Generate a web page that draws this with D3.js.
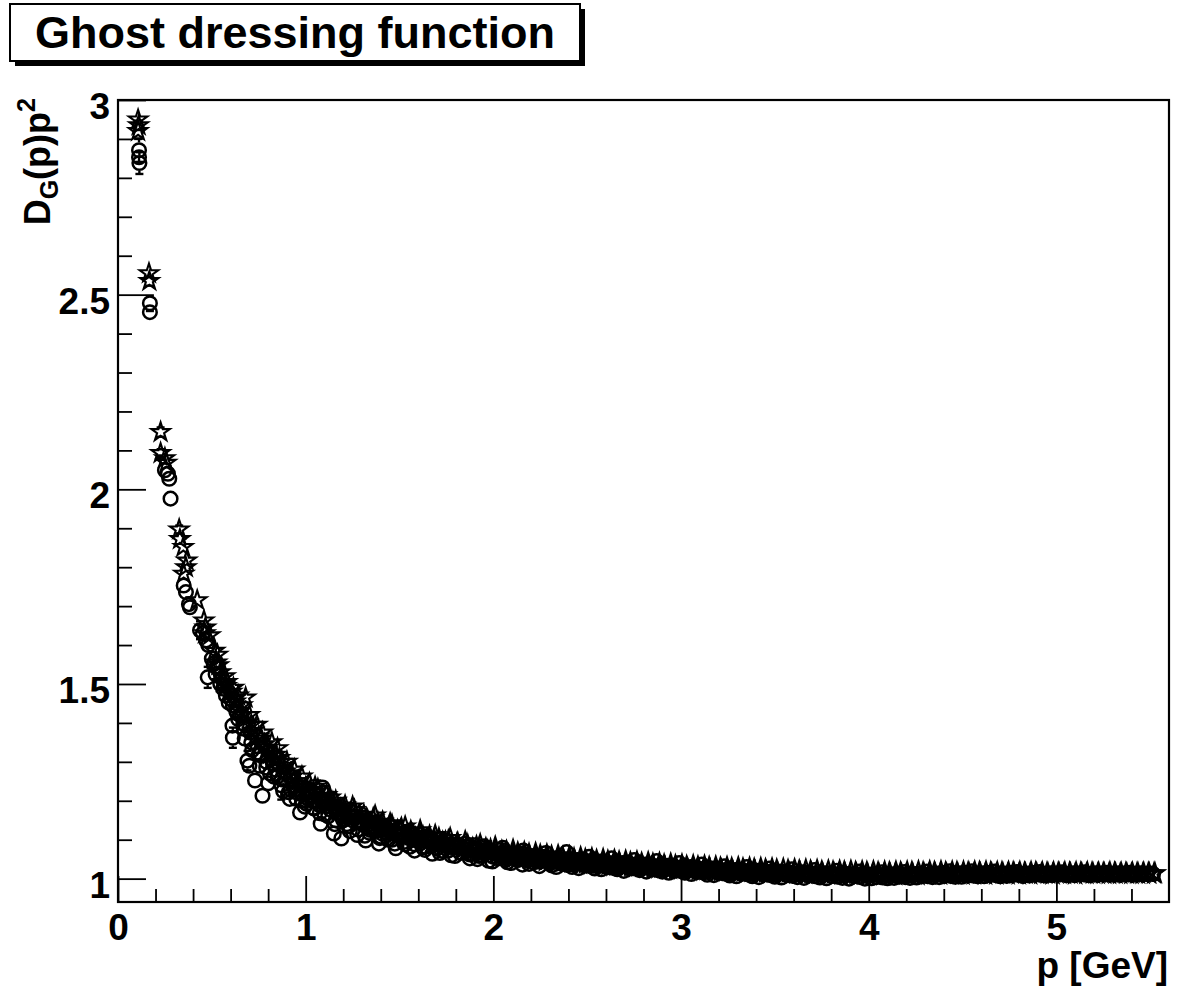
<!DOCTYPE html>
<html>
<head>
<meta charset="utf-8">
<script src="https://cdn.jsdelivr.net/npm/d3@7"></script>
<style>
  body { margin: 0; background: #fff; }
  text { font-family: "Liberation Sans", Arial, Helvetica, sans-serif; font-weight: bold; }
</style>
</head>
<body>
<div id="body"></div>
<script>
// [p (GeV), D_G(p)p^2, error]  -- first lattice set
var circlePoints = [
  [0.112, 2.871, 0.030], [0.112, 2.853, 0], [0.114, 2.838, 0.028],
  [0.170, 2.478, 0.020], [0.170, 2.455, 0],
  [0.250, 2.049, 0], [0.266, 2.040, 0], [0.273, 2.027, 0], [0.280, 1.976, 0],
  [0.350, 1.753, 0], [0.362, 1.736, 0], [0.383, 1.697, 0], [0.378, 1.705, 0],
  [0.437, 1.638, 0.023], [0.452, 1.630, 0], [0.470, 1.612, 0], [0.481, 1.600, 0],
  [0.478, 1.517, 0.027], [0.500, 1.565, 0], [0.510, 1.552, 0], [0.532, 1.540, 0],
  [0.545, 1.500, 0], [0.560, 1.488, 0], [0.575, 1.470, 0], [0.590, 1.452, 0],
  [0.612, 1.445, 0], [0.630, 1.430, 0], [0.610, 1.393, 0], [0.612, 1.362, 0.026],
  [0.650, 1.420, 0], [0.668, 1.398, 0], [0.690, 1.303, 0.025], [0.700, 1.290, 0],
  [0.705, 1.375, 0], [0.730, 1.252, 0], [0.745, 1.340, 0], [0.770, 1.213, 0],
  [0.760, 1.320, 0], [0.790, 1.300, 0], [0.810, 1.270, 0], [0.830, 1.295, 0],
  [0.850, 1.262, 0], [0.870, 1.240, 0.037], [0.890, 1.255, 0], [0.910, 1.222, 0],
  [0.930, 1.240, 0], [0.950, 1.205, 0], [0.970, 1.170, 0], [0.985, 1.215, 0],
  [1.005, 1.192, 0], [1.025, 1.210, 0], [1.045, 1.180, 0], [1.080, 1.141, 0],
  [1.090, 1.234, 0], [1.100, 1.195, 0], [1.120, 1.160, 0], [1.150, 1.116, 0],
  [1.160, 1.175, 0], [1.190, 1.103, 0], [1.200, 1.150, 0], [1.230, 1.135, 0],
  [1.250, 1.160, 0], [1.275, 1.112, 0], [1.300, 1.140, 0], [1.320, 1.098, 0],
  [1.345, 1.125, 0], [1.370, 1.145, 0], [1.390, 1.090, 0], [1.410, 1.115, 0],
  [1.440, 1.100, 0], [1.460, 1.132, 0], [1.480, 1.078, 0], [1.505, 1.108, 0],
  [1.530, 1.088, 0], [1.555, 1.120, 0], [1.580, 1.072, 0], [1.600, 1.095, 0],
  [1.625, 1.080, 0], [1.650, 1.108, 0], [1.675, 1.064, 0], [1.700, 1.088, 0],
  [1.725, 1.072, 0], [1.750, 1.098, 0], [1.775, 1.060, 0], [1.800, 1.082, 0],
  [1.825, 1.066, 0], [1.850, 1.090, 0], [1.875, 1.052, 0], [1.900, 1.075, 0],
  [1.925, 1.058, 0], [1.950, 1.083, 0], [1.975, 1.046, 0], [2.000, 1.068, 0],
  [2.025, 1.052, 0], [2.050, 1.079, 0], [2.075, 1.042, 0], [2.100, 1.062, 0],
  [2.130, 1.048, 0], [2.160, 1.072, 0], [2.190, 1.038, 0], [2.220, 1.058, 0],
  [2.250, 1.044, 0], [2.280, 1.066, 0], [2.310, 1.034, 0], [2.340, 1.052, 0],
  [2.370, 1.040, 0], [2.390, 1.068, 0], [2.420, 1.030, 0], [2.450, 1.048, 0],
  [2.480, 1.036, 0], [2.510, 1.056, 0], [2.540, 1.026, 0], [2.570, 1.044, 0],
  [2.600, 1.033, 0], [2.630, 1.052, 0], [2.660, 1.024, 0], [2.690, 1.040, 0],
  [2.720, 1.030, 0], [2.750, 1.048, 0], [2.780, 1.022, 0], [2.810, 1.036, 0],
  [2.840, 1.027, 0], [2.870, 1.045, 0], [2.900, 1.018, 0], [2.930, 1.033, 0],
  [2.960, 1.024, 0], [2.990, 1.040, 0], [3.020, 1.015, 0], [3.050, 1.030, 0],
  [3.080, 1.020, 0], [3.110, 1.036, 0], [3.140, 1.010, 0], [3.170, 1.026, 0],
  [3.200, 1.016, 0], [3.230, 1.032, 0], [3.260, 1.008, 0], [3.290, 1.022, 0],
  [3.320, 1.014, 0], [3.350, 1.030, 0], [3.380, 1.006, 0], [3.410, 1.020, 0],
  [3.440, 1.012, 0], [3.470, 1.026, 0], [3.500, 1.005, 0], [3.530, 1.018, 0],
  [3.560, 1.010, 0], [3.590, 1.024, 0], [3.620, 1.004, 0], [3.650, 1.016, 0],
  [3.680, 1.008, 0], [3.710, 1.022, 0], [3.740, 1.003, 0], [3.770, 1.014, 0],
  [3.800, 1.007, 0], [3.830, 1.020, 0], [3.860, 1.002, 0], [3.890, 1.012, 0],
  [3.920, 1.006, 0], [3.950, 1.018, 0], [3.980, 1.000, 0], [4.010, 1.010, 0],
  [4.040, 1.004, 0], [4.070, 1.016, 0], [4.100, 1.001, 0], [4.130, 1.011, 0],
  [4.160, 1.005, 0], [4.190, 1.017, 0], [4.220, 1.002, 0], [4.250, 1.012, 0],
  [4.280, 1.006, 0], [4.310, 1.018, 0], [4.340, 1.004, 0], [4.370, 1.013, 0],
  [4.400, 1.007, 0], [4.430, 1.019, 0], [4.460, 1.005, 0], [4.490, 1.014, 0],
  [4.520, 1.008, 0], [4.550, 1.019, 0], [4.580, 1.006, 0], [4.610, 1.014, 0],
  [4.640, 1.009, 0], [4.670, 1.018, 0], [4.700, 1.006, 0], [4.730, 1.013, 0],
  [4.760, 1.009, 0], [4.790, 1.017, 0], [4.820, 1.007, 0], [4.850, 1.013, 0],
  [4.880, 1.010, 0], [4.910, 1.017, 0], [4.940, 1.008, 0], [4.970, 1.014, 0],
  [5.000, 1.010, 0], [5.030, 1.016, 0], [5.060, 1.009, 0], [5.090, 1.014, 0],
  [5.120, 1.011, 0], [5.150, 1.016, 0], [5.180, 1.009, 0], [5.210, 1.014, 0],
  [5.240, 1.011, 0], [5.270, 1.015, 0], [5.300, 1.010, 0], [5.330, 1.014, 0],
  [5.360, 1.011, 0], [5.390, 1.015, 0], [5.420, 1.010, 0], [5.450, 1.014, 0],
  [5.480, 1.012, 0], [5.510, 1.013, 0]
];

var starPoints = [
  [0.107, 2.950, 0], [0.110, 2.935, 0.012], [0.107, 2.920, 0.020],
  [0.165, 2.555, 0], [0.167, 2.535, 0.012],
  [0.227, 2.147, 0.012], [0.227, 2.093, 0.010], [0.250, 2.080, 0], [0.258, 2.068, 0],
  [0.326, 1.897, 0.010], [0.330, 1.872, 0], [0.348, 1.852, 0], [0.366, 1.817, 0],
  [0.362, 1.800, 0], [0.350, 1.783, 0], [0.422, 1.715, 0],
  [0.458, 1.663, 0], [0.466, 1.645, 0], [0.463, 1.630, 0], [0.490, 1.625, 0],
  [0.515, 1.585, 0], [0.530, 1.575, 0], [0.545, 1.530, 0], [0.560, 1.505, 0],
  [0.575, 1.495, 0], [0.590, 1.478, 0], [0.605, 1.480, 0], [0.620, 1.462, 0],
  [0.640, 1.470, 0], [0.660, 1.445, 0], [0.680, 1.465, 0], [0.700, 1.420, 0],
  [0.720, 1.380, 0], [0.740, 1.395, 0], [0.760, 1.360, 0], [0.780, 1.345, 0],
  [0.800, 1.337, 0], [0.820, 1.350, 0], [0.840, 1.318, 0], [0.860, 1.310, 0],
  [0.880, 1.290, 0], [0.900, 1.300, 0], [0.920, 1.270, 0], [0.940, 1.280, 0],
  [0.960, 1.250, 0], [0.980, 1.262, 0], [1.000, 1.234, 0], [1.020, 1.245, 0],
  [1.040, 1.222, 0], [1.065, 1.230, 0], [1.085, 1.205, 0], [1.110, 1.215, 0],
  [1.135, 1.192, 0], [1.160, 1.200, 0], [1.185, 1.178, 0], [1.210, 1.188, 0],
  [1.235, 1.165, 0], [1.260, 1.176, 0], [1.285, 1.152, 0], [1.310, 1.164, 0],
  [1.335, 1.142, 0], [1.360, 1.155, 0], [1.385, 1.133, 0], [1.410, 1.146, 0],
  [1.435, 1.126, 0], [1.460, 1.138, 0], [1.485, 1.118, 0], [1.510, 1.130, 0],
  [1.535, 1.110, 0], [1.560, 1.122, 0], [1.585, 1.104, 0], [1.610, 1.115, 0],
  [1.635, 1.098, 0], [1.660, 1.110, 0], [1.685, 1.092, 0], [1.710, 1.104, 0],
  [1.735, 1.086, 0], [1.760, 1.098, 0], [1.785, 1.080, 0], [1.810, 1.092, 0],
  [1.835, 1.075, 0], [1.860, 1.088, 0], [1.885, 1.070, 0], [1.910, 1.083, 0],
  [1.935, 1.066, 0], [1.960, 1.078, 0], [1.985, 1.062, 0], [2.010, 1.075, 0],
  [2.040, 1.058, 0], [2.070, 1.071, 0], [2.100, 1.054, 0], [2.130, 1.067, 0],
  [2.160, 1.051, 0], [2.190, 1.064, 0], [2.220, 1.048, 0], [2.250, 1.061, 0],
  [2.280, 1.045, 0], [2.310, 1.058, 0], [2.340, 1.042, 0], [2.370, 1.055, 0],
  [2.400, 1.040, 0], [2.430, 1.052, 0], [2.460, 1.038, 0], [2.490, 1.050, 0],
  [2.520, 1.036, 0], [2.550, 1.048, 0], [2.580, 1.034, 0], [2.610, 1.046, 0],
  [2.640, 1.032, 0], [2.670, 1.044, 0], [2.700, 1.031, 0], [2.730, 1.042, 0],
  [2.760, 1.029, 0], [2.790, 1.040, 0], [2.820, 1.028, 0], [2.850, 1.038, 0],
  [2.880, 1.026, 0], [2.910, 1.036, 0], [2.940, 1.025, 0], [2.970, 1.034, 0],
  [3.000, 1.023, 0], [3.030, 1.032, 0], [3.060, 1.022, 0], [3.090, 1.031, 0],
  [3.120, 1.020, 0], [3.150, 1.030, 0], [3.180, 1.019, 0], [3.210, 1.028, 0],
  [3.240, 1.018, 0], [3.270, 1.027, 0], [3.300, 1.017, 0], [3.330, 1.026, 0],
  [3.360, 1.016, 0], [3.390, 1.025, 0], [3.420, 1.015, 0], [3.450, 1.024, 0],
  [3.480, 1.014, 0], [3.510, 1.023, 0], [3.540, 1.013, 0], [3.570, 1.022, 0],
  [3.600, 1.013, 0], [3.630, 1.021, 0], [3.660, 1.012, 0], [3.690, 1.020, 0],
  [3.720, 1.012, 0], [3.750, 1.019, 0], [3.780, 1.011, 0], [3.810, 1.018, 0],
  [3.840, 1.011, 0], [3.870, 1.018, 0], [3.900, 1.010, 0], [3.930, 1.017, 0],
  [3.960, 1.010, 0], [3.990, 1.017, 0], [4.020, 1.010, 0], [4.050, 1.016, 0],
  [4.080, 1.009, 0], [4.110, 1.016, 0], [4.140, 1.009, 0], [4.170, 1.016, 0],
  [4.200, 1.010, 0], [4.230, 1.017, 0], [4.260, 1.009, 0], [4.290, 1.016, 0],
  [4.320, 1.010, 0], [4.350, 1.017, 0], [4.380, 1.010, 0], [4.410, 1.016, 0],
  [4.440, 1.011, 0], [4.470, 1.017, 0], [4.500, 1.010, 0], [4.530, 1.016, 0],
  [4.560, 1.011, 0], [4.590, 1.017, 0], [4.620, 1.010, 0], [4.650, 1.016, 0],
  [4.680, 1.011, 0], [4.710, 1.016, 0], [4.740, 1.011, 0], [4.770, 1.016, 0],
  [4.800, 1.011, 0], [4.830, 1.015, 0], [4.860, 1.011, 0], [4.890, 1.016, 0],
  [4.920, 1.012, 0], [4.950, 1.015, 0], [4.980, 1.011, 0], [5.010, 1.015, 0],
  [5.040, 1.012, 0], [5.070, 1.015, 0], [5.100, 1.011, 0], [5.130, 1.015, 0],
  [5.160, 1.012, 0], [5.190, 1.015, 0], [5.220, 1.012, 0], [5.250, 1.014, 0],
  [5.280, 1.012, 0], [5.310, 1.015, 0], [5.340, 1.012, 0], [5.370, 1.014, 0],
  [5.400, 1.012, 0], [5.430, 1.014, 0], [5.460, 1.012, 0], [5.490, 1.014, 0],
  [5.520, 1.013, 0]
];

// second lattice set, filling in between
var circlePointsB = [
  [0.520, 1.525, 0], [0.555, 1.515, 0], [0.640, 1.410, 0], [0.675, 1.360, 0],
  [0.715, 1.330, 0], [0.755, 1.290, 0], [0.800, 1.245, 0], [0.840, 1.280, 0],
  [0.880, 1.225, 0],
  [0.915, 1.205, 0], [0.955, 1.228, 0], [0.995, 1.185, 0], [1.035, 1.200, 0],
  [1.075, 1.168, 0], [1.115, 1.186, 0], [1.155, 1.140, 0], [1.195, 1.165, 0],
  [1.235, 1.122, 0], [1.275, 1.148, 0], [1.315, 1.110, 0], [1.355, 1.135, 0],
  [1.395, 1.104, 0], [1.435, 1.124, 0], [1.475, 1.090, 0], [1.515, 1.116, 0],
  [1.555, 1.082, 0], [1.595, 1.104, 0], [1.635, 1.074, 0], [1.675, 1.096, 0],
  [1.715, 1.066, 0], [1.755, 1.088, 0], [1.795, 1.058, 0], [1.835, 1.080, 0],
  [1.875, 1.062, 0], [1.915, 1.050, 0], [1.955, 1.070, 0], [1.995, 1.044, 0],
  [2.035, 1.064, 0], [2.065, 1.048, 0], [2.095, 1.040, 0], [2.125, 1.058, 0],
  [2.155, 1.036, 0], [2.185, 1.054, 0], [2.215, 1.042, 0], [2.245, 1.032, 0],
  [2.275, 1.050, 0], [2.305, 1.040, 0], [2.335, 1.030, 0], [2.365, 1.047, 0],
  [2.395, 1.035, 0], [2.425, 1.044, 0], [2.455, 1.027, 0], [2.485, 1.042, 0],
  [2.515, 1.032, 0], [2.545, 1.040, 0], [2.575, 1.024, 0], [2.605, 1.038, 0],
  [2.635, 1.028, 0], [2.665, 1.036, 0], [2.695, 1.020, 0], [2.725, 1.034, 0],
  [2.755, 1.026, 0], [2.785, 1.032, 0], [2.815, 1.018, 0], [2.845, 1.031, 0],
  [2.875, 1.022, 0], [2.905, 1.028, 0], [2.935, 1.015, 0], [2.965, 1.029, 0],
  [2.995, 1.020, 0], [3.025, 1.026, 0], [3.055, 1.012, 0], [3.085, 1.025, 0],
  [3.115, 1.016, 0], [3.145, 1.022, 0], [3.175, 1.009, 0], [3.205, 1.022, 0],
  [3.235, 1.013, 0], [3.265, 1.019, 0], [3.295, 1.006, 0], [3.325, 1.020, 0],
  [3.355, 1.011, 0], [3.385, 1.016, 0], [3.415, 1.004, 0], [3.445, 1.018, 0],
  [3.475, 1.009, 0], [3.505, 1.014, 0], [3.535, 1.003, 0], [3.565, 1.016, 0],
  [3.595, 1.007, 0], [3.625, 1.012, 0], [3.655, 1.002, 0], [3.685, 1.014, 0],
  [3.715, 1.006, 0], [3.745, 1.011, 0], [3.775, 1.001, 0], [3.805, 1.013, 0],
  [3.835, 1.005, 0], [3.865, 1.010, 0], [3.895, 1.000, 0], [3.925, 1.012, 0],
  [3.955, 1.004, 0], [3.985, 1.009, 0], [4.015, 1.001, 0], [4.045, 1.012, 0],
  [4.075, 1.003, 0], [4.105, 1.009, 0], [4.135, 1.002, 0], [4.165, 1.013, 0],
  [4.195, 1.004, 0], [4.225, 1.009, 0], [4.255, 1.003, 0], [4.285, 1.014, 0],
  [4.315, 1.006, 0], [4.345, 1.010, 0], [4.375, 1.004, 0], [4.405, 1.015, 0],
  [4.435, 1.007, 0], [4.465, 1.011, 0], [4.495, 1.005, 0], [4.525, 1.015, 0],
  [4.555, 1.008, 0], [4.585, 1.012, 0], [4.615, 1.006, 0], [4.645, 1.015, 0],
  [4.675, 1.009, 0], [4.705, 1.012, 0], [4.735, 1.007, 0], [4.765, 1.015, 0],
  [4.795, 1.010, 0], [4.825, 1.012, 0], [4.855, 1.008, 0], [4.885, 1.015, 0],
  [4.915, 1.010, 0], [4.945, 1.012, 0], [4.975, 1.009, 0], [5.005, 1.014, 0],
  [5.035, 1.011, 0], [5.065, 1.012, 0], [5.095, 1.009, 0], [5.125, 1.014, 0],
  [5.155, 1.011, 0], [5.185, 1.012, 0], [5.215, 1.010, 0], [5.245, 1.014, 0],
  [5.275, 1.011, 0], [5.305, 1.013, 0], [5.335, 1.010, 0], [5.365, 1.014, 0],
  [5.395, 1.011, 0], [5.425, 1.013, 0], [5.455, 1.011, 0], [5.485, 1.013, 0],
  [5.515, 1.012, 0]
];

var starPointsB = [
  [0.525, 1.555, 0], [0.570, 1.520, 0], [0.615, 1.490, 0], [0.650, 1.432, 0],
  [0.690, 1.400, 0], [0.730, 1.360, 0], [0.770, 1.375, 0], [0.810, 1.320, 0],
  [0.850, 1.335, 0], [0.890, 1.275, 0],
  [0.930, 1.262, 0], [0.970, 1.238, 0], [1.010, 1.222, 0], [1.050, 1.236, 0],
  [1.090, 1.198, 0], [1.130, 1.208, 0], [1.170, 1.182, 0], [1.210, 1.170, 0],
  [1.250, 1.185, 0], [1.290, 1.158, 0], [1.330, 1.150, 0], [1.370, 1.162, 0],
  [1.410, 1.130, 0], [1.450, 1.142, 0], [1.490, 1.124, 0], [1.530, 1.134, 0],
  [1.570, 1.112, 0], [1.610, 1.124, 0], [1.650, 1.100, 0], [1.690, 1.112, 0],
  [1.730, 1.094, 0], [1.770, 1.104, 0], [1.810, 1.084, 0], [1.850, 1.096, 0],
  [1.890, 1.078, 0], [1.930, 1.088, 0], [1.970, 1.072, 0], [2.010, 1.082, 0],
  [2.045, 1.066, 0], [2.075, 1.062, 0], [2.105, 1.074, 0], [2.135, 1.059, 0],
  [2.165, 1.068, 0], [2.195, 1.055, 0], [2.225, 1.066, 0], [2.255, 1.052, 0],
  [2.285, 1.062, 0], [2.315, 1.049, 0], [2.345, 1.060, 0], [2.375, 1.046, 0],
  [2.405, 1.057, 0], [2.435, 1.043, 0], [2.465, 1.055, 0], [2.495, 1.041, 0],
  [2.525, 1.052, 0], [2.555, 1.039, 0], [2.585, 1.050, 0], [2.615, 1.037, 0],
  [2.645, 1.048, 0], [2.675, 1.035, 0], [2.705, 1.046, 0], [2.735, 1.034, 0],
  [2.765, 1.044, 0], [2.795, 1.032, 0], [2.825, 1.042, 0], [2.855, 1.030, 0],
  [2.885, 1.040, 0], [2.915, 1.029, 0], [2.945, 1.038, 0], [2.975, 1.027, 0],
  [3.005, 1.036, 0], [3.035, 1.026, 0], [3.065, 1.034, 0], [3.095, 1.024, 0],
  [3.125, 1.033, 0], [3.155, 1.023, 0], [3.185, 1.031, 0], [3.215, 1.022, 0],
  [3.245, 1.030, 0], [3.275, 1.020, 0], [3.305, 1.029, 0], [3.335, 1.019, 0],
  [3.365, 1.028, 0], [3.395, 1.018, 0], [3.425, 1.027, 0], [3.455, 1.017, 0],
  [3.485, 1.026, 0], [3.515, 1.016, 0], [3.545, 1.025, 0], [3.575, 1.015, 0],
  [3.605, 1.024, 0], [3.635, 1.015, 0], [3.665, 1.023, 0], [3.695, 1.014, 0],
  [3.725, 1.022, 0], [3.755, 1.013, 0], [3.785, 1.021, 0], [3.815, 1.013, 0],
  [3.845, 1.020, 0], [3.875, 1.012, 0], [3.905, 1.020, 0], [3.935, 1.012, 0],
  [3.965, 1.019, 0], [3.995, 1.011, 0], [4.025, 1.019, 0], [4.055, 1.011, 0],
  [4.085, 1.018, 0], [4.115, 1.011, 0], [4.145, 1.018, 0], [4.175, 1.011, 0],
  [4.205, 1.018, 0], [4.235, 1.012, 0], [4.265, 1.019, 0], [4.295, 1.012, 0],
  [4.325, 1.019, 0], [4.355, 1.012, 0], [4.385, 1.019, 0], [4.415, 1.012, 0],
  [4.445, 1.018, 0], [4.475, 1.012, 0], [4.505, 1.018, 0], [4.535, 1.013, 0],
  [4.565, 1.018, 0], [4.595, 1.013, 0], [4.625, 1.018, 0], [4.655, 1.013, 0],
  [4.685, 1.017, 0], [4.715, 1.013, 0], [4.745, 1.017, 0], [4.775, 1.013, 0],
  [4.805, 1.017, 0], [4.835, 1.013, 0], [4.865, 1.017, 0], [4.895, 1.013, 0],
  [4.925, 1.016, 0], [4.955, 1.013, 0], [4.985, 1.016, 0], [5.015, 1.013, 0],
  [5.045, 1.016, 0], [5.075, 1.013, 0], [5.105, 1.016, 0], [5.135, 1.013, 0],
  [5.165, 1.016, 0], [5.195, 1.013, 0], [5.225, 1.015, 0], [5.255, 1.013, 0],
  [5.285, 1.016, 0], [5.315, 1.013, 0], [5.345, 1.015, 0], [5.375, 1.013, 0],
  [5.405, 1.015, 0], [5.435, 1.013, 0], [5.465, 1.015, 0], [5.495, 1.013, 0],
  [5.525, 1.014, 0]
];

// third lattice set, densest part of the curve
var circlePointsC = [
  [0.530, 1.545, 0], [0.565, 1.495, 0], [0.600, 1.462, 0], [0.635, 1.425, 0],
  [0.670, 1.385, 0], [0.710, 1.350, 0], [0.750, 1.318, 0], [0.790, 1.285, 0],
  [0.830, 1.262, 0], [0.870, 1.255, 0],
  [0.920, 1.228, 0], [0.950, 1.222, 0], [0.980, 1.200, 0], [1.010, 1.206, 0],
  [1.040, 1.182, 0], [1.070, 1.190, 0], [1.100, 1.165, 0], [1.130, 1.178, 0],
  [1.160, 1.150, 0], [1.190, 1.160, 0], [1.220, 1.140, 0], [1.250, 1.150, 0],
  [1.280, 1.126, 0], [1.310, 1.138, 0], [1.340, 1.118, 0], [1.370, 1.128, 0],
  [1.400, 1.108, 0], [1.430, 1.118, 0], [1.460, 1.100, 0], [1.490, 1.110, 0],
  [1.520, 1.094, 0], [1.550, 1.104, 0], [1.580, 1.088, 0], [1.610, 1.098, 0],
  [1.640, 1.082, 0], [1.670, 1.092, 0], [1.700, 1.077, 0], [1.730, 1.086, 0],
  [1.760, 1.072, 0], [1.790, 1.081, 0], [1.820, 1.068, 0], [1.850, 1.076, 0],
  [1.880, 1.064, 0], [1.910, 1.072, 0], [1.940, 1.060, 0], [1.970, 1.068, 0],
  [2.000, 1.056, 0], [2.030, 1.064, 0], [2.060, 1.053, 0], [2.090, 1.060, 0],
  [2.120, 1.050, 0], [2.150, 1.057, 0], [2.180, 1.047, 0], [2.210, 1.054, 0],
  [2.240, 1.044, 0], [2.270, 1.051, 0], [2.300, 1.041, 0], [2.330, 1.048, 0],
  [2.360, 1.039, 0], [2.390, 1.045, 0], [2.420, 1.037, 0], [2.450, 1.043, 0],
  [2.480, 1.035, 0], [2.510, 1.041, 0], [2.540, 1.033, 0], [2.570, 1.039, 0],
  [2.600, 1.031, 0], [2.630, 1.037, 0], [2.660, 1.029, 0], [2.690, 1.035, 0],
  [2.720, 1.027, 0], [2.750, 1.033, 0], [2.780, 1.026, 0], [2.810, 1.031, 0],
  [2.840, 1.024, 0], [2.870, 1.030, 0], [2.900, 1.023, 0], [2.930, 1.028, 0],
  [2.960, 1.021, 0], [2.990, 1.027, 0], [3.020, 1.020, 0], [3.050, 1.025, 0],
  [3.080, 1.018, 0], [3.110, 1.024, 0], [3.140, 1.017, 0], [3.170, 1.022, 0],
  [3.200, 1.015, 0], [3.230, 1.021, 0], [3.260, 1.014, 0], [3.290, 1.020, 0],
  [3.320, 1.013, 0], [3.350, 1.018, 0], [3.380, 1.012, 0], [3.410, 1.017, 0],
  [3.440, 1.011, 0], [3.470, 1.016, 0], [3.500, 1.010, 0]
];

var starPointsC = [
  [0.535, 1.548, 0], [0.580, 1.505, 0], [0.625, 1.455, 0], [0.665, 1.420, 0],
  [0.710, 1.395, 0], [0.750, 1.365, 0], [0.790, 1.330, 0], [0.830, 1.305, 0],
  [0.870, 1.300, 0], [0.905, 1.270, 0],
  [0.935, 1.250, 0], [0.965, 1.242, 0], [0.995, 1.225, 0], [1.025, 1.228, 0],
  [1.055, 1.206, 0], [1.085, 1.212, 0], [1.115, 1.190, 0], [1.145, 1.196, 0],
  [1.175, 1.172, 0], [1.205, 1.180, 0], [1.235, 1.158, 0], [1.265, 1.166, 0],
  [1.295, 1.146, 0], [1.325, 1.154, 0], [1.355, 1.136, 0], [1.385, 1.144, 0],
  [1.415, 1.126, 0], [1.445, 1.134, 0], [1.475, 1.116, 0], [1.505, 1.124, 0],
  [1.535, 1.108, 0], [1.565, 1.116, 0], [1.595, 1.100, 0], [1.625, 1.108, 0],
  [1.655, 1.094, 0], [1.685, 1.101, 0], [1.715, 1.088, 0], [1.745, 1.095, 0],
  [1.775, 1.082, 0], [1.805, 1.089, 0], [1.835, 1.078, 0], [1.865, 1.084, 0],
  [1.895, 1.073, 0], [1.925, 1.079, 0], [1.955, 1.069, 0], [1.985, 1.075, 0],
  [2.015, 1.065, 0], [2.045, 1.071, 0], [2.075, 1.058, 0], [2.105, 1.064, 0],
  [2.135, 1.055, 0], [2.165, 1.061, 0], [2.195, 1.052, 0], [2.225, 1.058, 0],
  [2.255, 1.049, 0], [2.285, 1.055, 0], [2.315, 1.046, 0], [2.345, 1.052, 0],
  [2.375, 1.043, 0], [2.405, 1.049, 0], [2.435, 1.041, 0], [2.465, 1.047, 0],
  [2.495, 1.039, 0], [2.525, 1.044, 0], [2.555, 1.037, 0], [2.585, 1.042, 0],
  [2.615, 1.035, 0], [2.645, 1.040, 0], [2.675, 1.033, 0], [2.705, 1.038, 0],
  [2.735, 1.031, 0], [2.765, 1.036, 0], [2.795, 1.030, 0], [2.825, 1.035, 0],
  [2.855, 1.028, 0], [2.885, 1.033, 0], [2.915, 1.027, 0], [2.945, 1.031, 0],
  [2.975, 1.025, 0], [3.005, 1.030, 0], [3.035, 1.024, 0], [3.065, 1.028, 0],
  [3.095, 1.022, 0], [3.125, 1.027, 0], [3.155, 1.021, 0], [3.185, 1.025, 0],
  [3.215, 1.020, 0], [3.245, 1.024, 0], [3.275, 1.019, 0], [3.305, 1.023, 0],
  [3.335, 1.018, 0], [3.365, 1.022, 0], [3.395, 1.017, 0], [3.425, 1.021, 0],
  [3.455, 1.016, 0], [3.485, 1.020, 0]
];

var xMajorTicks = [0, 1, 2, 3, 4, 5];
var yMajorTicks = [1, 1.5, 2, 2.5, 3];
var titleText = "Ghost dressing function";

var allCircles = circlePoints.concat(circlePointsB, circlePointsC);
var allStars = starPoints.concat(starPointsB, starPointsC);

var width = 1181;
var height = 1004;

var svg = d3
  .select("#body")
  .append("svg")
  .attr("width", width)
  .attr("height", height);

var plotLeft = 118, plotRight = 1169, plotTop = 100, plotBottom = 902;

var xScale = d3.scaleLinear().domain([0, 5.6]).range([plotLeft, plotRight]);
var yScale = d3.scaleLinear().domain([0.94, 3]).range([plotBottom, plotTop]);

var tickFont = 37;
var circleR = 6.8;
var starSymbol = d3.symbol().type(d3.symbolStar).size(105);

//======================= AXES ============================

var xMinor = d3.range(0, 5.5, 0.2).filter(function (v) {
  return Math.abs(v - Math.round(v)) > 0.01;
});
var yMinor = d3.range(1, 3.0, 0.1).filter(function (v) {
  return Math.abs(v * 2 - Math.round(v * 2)) > 0.01;
});

svg.append("g")
  .attr("transform", "translate(0," + plotBottom + ")")
  .call(d3.axisBottom(xScale).tickValues(xMinor).tickSize(-13).tickFormat(""))
  .call(function (g) { g.select(".domain").remove(); });

svg.append("g")
  .attr("transform", "translate(" + plotLeft + ",0)")
  .call(d3.axisLeft(yScale).tickValues(yMinor).tickSize(-14).tickFormat(""))
  .call(function (g) { g.select(".domain").remove(); });

var xAxis = svg.append("g")
  .attr("transform", "translate(0," + plotBottom + ")")
  .call(d3.axisBottom(xScale).tickValues(xMajorTicks).tickSize(-26).tickPadding(12)
    .tickFormat(d3.format("d")));
xAxis.select(".domain").remove();
xAxis.selectAll("text")
  .attr("font-size", tickFont)
  .style("font-family", "Liberation Sans, Arial, sans-serif")
  .attr("fill", "#000");

var yAxis = svg.append("g")
  .attr("transform", "translate(" + plotLeft + ",0)")
  .call(d3.axisLeft(yScale).tickValues(yMajorTicks).tickSize(-28).tickPadding(8)
    .tickFormat(function (d) { return d3.format("")(d); }));
yAxis.select(".domain").remove();
yAxis.selectAll("text")
  .attr("font-size", tickFont)
  .attr("dy", "0.5em")
  .style("font-family", "Liberation Sans, Arial, sans-serif")
  .attr("fill", "#000");

svg.selectAll(".tick line").attr("stroke", "#000").attr("stroke-width", 1.8);

//======================= ERROR BARS ============================

function drawErrors(points, gap) {
  var g = svg.append("g").attr("stroke", "#000").attr("stroke-width", 2.4);
  points.filter(function (d) { return d[2] > 0; }).forEach(function (d) {
    var x = xScale(d[0]);
    var yc = yScale(d[1]);
    var yHi = yScale(d[1] + d[2]);
    var yLo = yScale(d[1] - d[2]);
    if (yc - gap > yHi) {
      g.append("line").attr("x1", x).attr("x2", x).attr("y1", yHi).attr("y2", yc - gap);
    }
    if (yc + gap < yLo) {
      g.append("line").attr("x1", x).attr("x2", x).attr("y1", yc + gap).attr("y2", yLo);
    }
    g.append("line").attr("x1", x - 4).attr("x2", x + 4).attr("y1", yHi).attr("y2", yHi);
    g.append("line").attr("x1", x - 4).attr("x2", x + 4).attr("y1", yLo).attr("y2", yLo);
  });
}

drawErrors(allCircles, circleR + 1);
drawErrors(allStars, 8);

//======================= MARKERS ============================

svg.append("g")
  .selectAll("circle")
  .data(allCircles)
  .enter()
  .append("circle")
  .attr("cx", function (d) { return xScale(d[0]); })
  .attr("cy", function (d) { return yScale(d[1]); })
  .attr("r", circleR)
  .attr("fill", "none")
  .attr("stroke", "#000")
  .attr("stroke-width", 2.5);

svg.append("g")
  .selectAll("path")
  .data(allStars)
  .enter()
  .append("path")
  .attr("d", starSymbol)
  .attr("transform", function (d) {
    return "translate(" + xScale(d[0]) + "," + yScale(d[1]) + ")";
  })
  .attr("fill", "none")
  .attr("stroke", "#000")
  .attr("stroke-width", 2.1);

//======================= FRAME ============================

svg.append("rect")
  .attr("x", plotLeft)
  .attr("y", plotTop)
  .attr("width", plotRight - plotLeft)
  .attr("height", plotBottom - plotTop)
  .attr("fill", "none")
  .attr("stroke", "#000")
  .attr("stroke-width", 2.2);

//======================= TITLES ============================

// x title
svg.append("text")
  .attr("x", 1168)
  .attr("y", 978)
  .attr("text-anchor", "end")
  .attr("font-size", tickFont)
  .text("p [GeV]");

// y title
var yTitle = svg.append("text")
  .attr("transform", "translate(50,98) rotate(-90)")
  .attr("text-anchor", "end")
  .attr("font-size", 36);
yTitle.append("tspan").text("D");
yTitle.append("tspan").attr("font-size", 25).attr("dy", 8).text("G");
yTitle.append("tspan").attr("dy", -8).text("(p)p");
yTitle.append("tspan").attr("font-size", 25).attr("dy", -15).text("2");

// title box with shadow
svg.append("rect")
  .attr("x", 15)
  .attr("y", 9)
  .attr("width", 570)
  .attr("height", 57)
  .attr("fill", "#000");

svg.append("rect")
  .attr("x", 10)
  .attr("y", 4)
  .attr("width", 570)
  .attr("height", 57)
  .attr("fill", "#fff")
  .attr("stroke", "#000")
  .attr("stroke-width", 2);

svg.append("text")
  .attr("x", 295)
  .attr("y", 48)
  .attr("text-anchor", "middle")
  .attr("font-size", 45)
  .text(titleText);
</script>
</body>
</html>
